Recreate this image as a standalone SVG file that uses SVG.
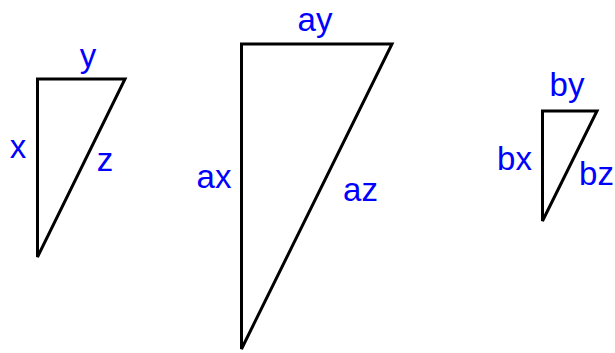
<svg xmlns="http://www.w3.org/2000/svg" width="615" height="353" viewBox="0 0 615 353">
<style>
.tri{fill:none;stroke:#000;stroke-width:3;stroke-linejoin:miter}
.lbl{font-family:"Liberation Sans",Arial,sans-serif;font-size:33px;fill:#0000ff;text-anchor:middle}
</style>
<rect width="615" height="353" fill="#fff"/>
<g id="triangle-small">
<polygon class="tri" points="37.5,79 125,79 37.5,257"/>
<text class="lbl" x="88" y="67">y</text>
<text class="lbl" x="18" y="158">x</text>
<text class="lbl" x="105" y="171">z</text>
</g>
<g id="triangle-large">
<polygon class="tri" points="241.5,44 392,44 241.5,349"/>
<text class="lbl" x="315" y="31">ay</text>
<text class="lbl" x="214" y="188">ax</text>
<text class="lbl" x="360.5" y="201">az</text>
</g>
<g id="triangle-right">
<polygon class="tri" points="542.5,111 597,111 542.5,221"/>
<text class="lbl" x="567" y="96">by</text>
<text class="lbl" x="514.5" y="170">bx</text>
<text class="lbl" x="596.5" y="185">bz</text>
</g>
</svg>
